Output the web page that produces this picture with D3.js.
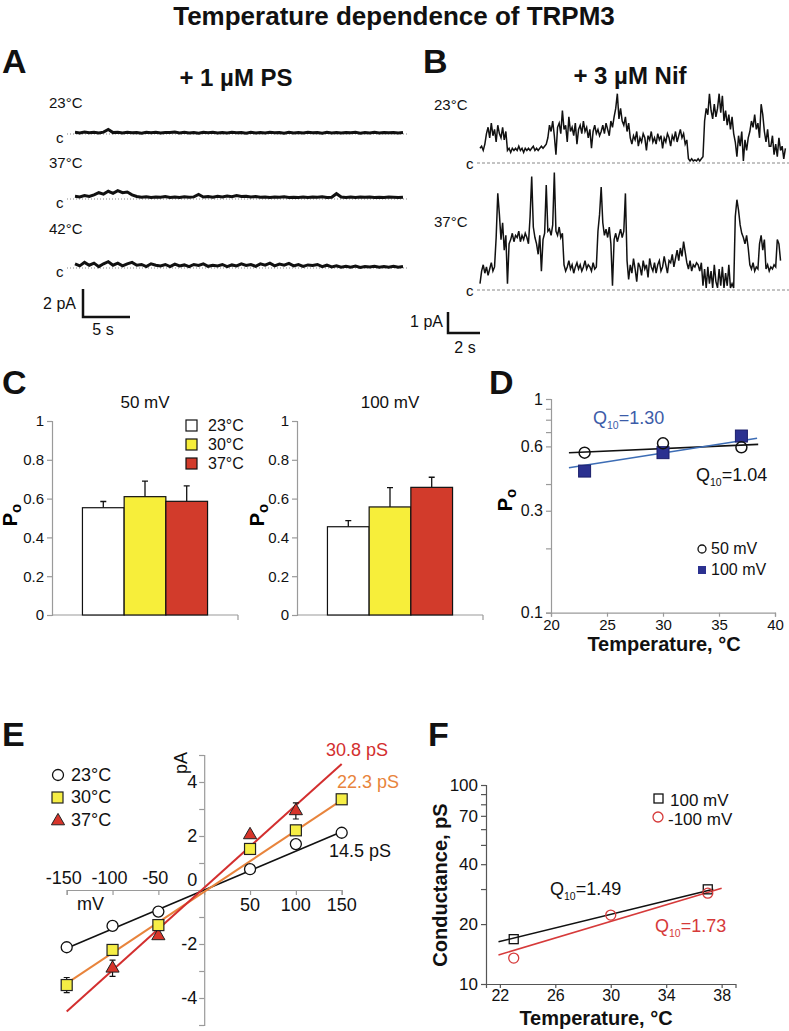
<!DOCTYPE html>
<html>
<head>
<meta charset="utf-8">
<script src="https://cdn.jsdelivr.net/npm/d3@7"></script>
<style>
  body { margin: 0; background: #fff; }
  text { font-family: "Liberation Sans", Arial, Helvetica, sans-serif; }
</style>
</head>
<body>
<script>
// ---- data ----

// A: single channel traces with 1 uM PS (pA above closed level, one sample per 0.5 s)
var traceA23 = [0.12,0.08,0.14,0.09,0.12,0.07,0.13,0.32,0.1,0.12,0.07,0.13,0.09,0.11,0.06,0.12,0.09,0.13,0.07,0.11,0.1,0.14,0.08,0.12,0.07,0.11,0.06,0.12,0.09,0.13,0.07,0.1,0.08,0.12,0.09,0.11,0.06,0.13,0.08,0.1,0.07,0.12,0.09,0.11,0.06,0.13,0.08,0.1,0.07,0.12,0.09,0.11,0.06,0.12,0.08,0.1,0.07,0.11,0.09,0.12,0.06,0.1,0.08,0.12,0.07,0.11,0.09,0.1,0.07,0.1];
var traceA37 = [0.2,0.15,0.25,0.18,0.3,0.45,0.35,0.55,0.4,0.6,0.45,0.5,0.3,0.18,0.12,0.16,0.1,0.15,0.12,0.17,0.11,0.14,0.1,0.16,0.12,0.15,0.32,0.14,0.18,0.12,0.2,0.15,0.22,0.16,0.24,0.18,0.2,0.14,0.17,0.12,0.15,0.1,0.14,0.12,0.16,0.1,0.13,0.11,0.15,0.1,0.14,0.12,0.16,0.1,0.13,0.38,0.14,0.11,0.15,0.1,0.14,0.12,0.15,0.1,0.13,0.11,0.14,0.12,0.1,0.13];
var traceA42 = [0.3,0.15,0.4,0.2,0.35,0.1,0.3,0.45,0.2,0.35,0.15,0.3,0.4,0.2,0.25,0.1,0.3,0.2,0.15,0.25,0.1,0.28,0.15,0.22,0.1,0.25,0.18,0.3,0.12,0.2,0.15,0.25,0.1,0.22,0.15,0.3,0.18,0.25,0.12,0.3,0.2,0.35,0.15,0.28,0.2,0.33,0.15,0.25,0.12,0.22,0.18,0.25,0.1,0.2,0.08,0.15,0.05,0.12,0.06,0.14,0.04,0.1,0.07,0.13,0.05,0.11,0.06,0.12,0.05,0.1];

// B: traces with 3 uM Nif (pA, one sample per 0.1 s)
var traceB23 = [0.7,0.8,0.6,0.9,
  1.4,1.7,1.2,1.9,1.3,1.6,1.0,1.8,1.4,1.2,1.7,1.1,1.5,
  0.6,0.7,0.5,0.7,0.6,0.7,0.6,0.8,0.6,0.7,0.5,0.7,0.6,0.7,0.6,0.7,0.8,0.6,0.7,0.6,0.7,0.8,0.7,0.8,0.9,
  1.2,1.8,1.5,2.0,1.3,0.4,1.7,1.9,1.4,2.5,1.6,1.8,1.0,2.2,1.5,1.7,1.3,1.9,0.9,1.6,1.8,1.4,2.0,1.5,1.7,1.2,1.6,0.7,1.5,1.8,1.4,1.6,1.3,
  1.5,1.8,1.4,1.9,1.6,1.3,2.0,1.7,2.2,2.6,3.3,2.1,2.6,2.0,1.8,2.2,1.5,1.9,1.2,
  0.9,1.3,1.1,1.5,0.8,1.2,1.0,1.4,1.2,0.6,1.3,1.1,1.5,1.0,1.2,0.9,1.4,1.1,1.3,0.7,1.2,1.0,1.4,1.2,0.8,1.3,1.1,1.5,1.0,1.3,1.6,1.2,1.4,0.9,1.1,
  0.2,0.1,0.2,0.1,0.15,0.1,0.2,0.1,0.2,0.3,
  2.0,2.6,2.3,3.3,2.5,2.1,2.8,2.2,2.6,3.3,2.4,3.2,2.0,2.5,1.8,2.3,1.6,2.2,1.4,
  1.0,0.3,1.3,0.8,1.5,0.1,1.1,0.6,1.2,
  1.5,2.0,1.7,2.3,1.6,1.9,1.2,2.8,2.3,1.5,1.0,1.6,0.8,
  0.8,1.3,0.4,0.9,0.3,1.2,0.6,0.8,0.2,0.7];
var traceB37 = [0.3,0.9,1.2,0.8,1.1,0.7,1.0,1.3,0.9,1.1,
  2.5,4.6,3.6,
  2.4,3.2,1.9,2.6,0.3,2.2,
  2.4,2.7,2.3,2.6,2.5,2.8,2.3,2.6,2.4,2.7,2.5,2.2,
  3.5,5.4,3.0,
  2.5,2.2,1.7,2.6,0.9,2.4,2.7,
  5.0,2.8,
  2.9,2.6,3.1,5.6,
  2.8,2.6,3.0,2.5,2.7,
  1.2,0.9,1.1,1.4,1.0,1.2,0.8,1.1,1.3,1.0,1.2,0.9,1.1,1.4,1.0,1.2,1.1,0.9,1.3,1.0,1.1,
  2.8,3.6,4.9,3.2,
  2.6,2.9,2.5,3.0,2.2,0.2,
  2.4,2.7,2.3,2.6,2.9,2.5,2.8,4.6,
  1.4,0.5,1.2,0.8,1.5,1.0,0.4,1.3,1.1,0.7,1.4,1.0,1.2,0.6,1.5,1.1,0.9,1.3,0.8,1.2,1.4,0.9,1.1,1.6,1.2,0.8,1.4,1.3,1.7,1.1,1.5,1.9,1.4,2.0,1.6,2.3,1.8,
  1.3,1.0,1.4,0.9,1.2,1.1,1.3,
  1.2,0.9,1.3,0.2,1.0,0.1,1.1,0.3,0.9,0.1,1.2,0.4,0.1,1.0,0.2,1.1,0.1,0.8,0.2,1.2,0.1,0.3,0.1,
  3.5,4.3,3.8,3.1,2.7,
  2.5,2.2,2.6,2.0,
  1.2,1.0,1.3,0.9,1.1,1.0,
  2.2,2.6,1.9,2.4,
  1.0,1.2,0.9,1.1,1.0,1.2,1.1,
  2.4,2.2,1.4];

// C: open probability bars
var tempsC = ["23°C", "30°C", "37°C"];
var colorsC = ["#ffffff", "#f7ee3a", "#d23b2b"];
var po50 = [0.553, 0.61, 0.586];
var po50err = [0.032, 0.08, 0.08];
var po100 = [0.455, 0.557, 0.658];
var po100err = [0.031, 0.1, 0.052];

// D: Po vs temperature (log axis)
var tempD = [23, 30, 37];
var poD50 = [0.561, 0.62, 0.594];
var poD100 = [0.46, 0.561, 0.671];
var fitD50 = [[21.6, 0.56], [38.5, 0.613]];
var fitD100 = [[21.6, 0.477], [38.4, 0.655]];
var ticksD = [0.1, 0.2, 0.3, 0.4, 0.6, 0.7, 0.8, 0.9, 1];
var labelsD = [0.1, 0.3, 0.6, 1];

// E: I-V relations
var voltsE = [-150, -100, -50, 50, 100, 150];
var iE23 = [-2.12, -1.33, -0.8, 0.77, 1.7, 2.12];
var iE30 = [-3.52, -2.22, -1.3, 1.52, 2.21, 3.36];
var errE30 = [0.28, 0.1, 0.1, 0, 0, 0];
var voltsE37 = [-100, -50, 50, 100];
var iE37 = [-2.9, -1.7, 2.04, 2.93];
var errE37 = [0.3, 0, 0, 0.3];
var fitE23 = [[-150, -2.16], [150, 2.16]];
var fitE30 = [[-150, -3.46], [150, 3.33]];
var fitE37 = [[-150, -4.5], [150, 4.67]];

// F: conductance vs temperature (log axis)
var tempF100 = [23, 37];
var gF100 = [16.8, 29.9];
var tempFm100 = [23, 30, 37];
var gFm100 = [13.5, 22.2, 28.6];
var fitF100 = [[21.9, 16.3], [37.4, 29.9]];
var fitFm100 = [[21.9, 14.0], [38.0, 30.3]];
var ticksF = [10, 20, 30, 40, 50, 60, 70, 80, 90, 100];
var labelsF = [10, 20, 40, 70, 100];

// ---- drawing ----
var svg = d3.select("body").append("svg")
  .attr("width", 789)
  .attr("height", 1031);

svg.append("rect").attr("width", 789).attr("height", 1031).attr("fill", "#fff");

var AXIS = "#9a9a9a";

function label(x, y, s, size, opts) {
  opts = opts || {};
  return svg.append("text")
    .attr("x", x).attr("y", y)
    .attr("text-anchor", opts.anchor || "start")
    .attr("font-weight", opts.bold ? "bold" : "normal")
    .attr("fill", opts.color || "#111")
    .style("font-size", size + "px")
    .text(s);
}

function q10(x, y, val, color, size) {
  var t = svg.append("text").attr("x", x).attr("y", y).attr("fill", color).style("font-size", size + "px");
  t.append("tspan").text("Q");
  t.append("tspan").attr("dy", size * 0.3).style("font-size", (size * 0.58) + "px").text("10");
  t.append("tspan").attr("dy", -size * 0.3).text("=" + val);
}

function poLabel(x, y, size) {
  var t = svg.append("text")
    .attr("transform", "translate(" + x + "," + y + ") rotate(-90)")
    .attr("text-anchor", "middle")
    .attr("font-weight", "bold")
    .style("font-size", size + "px");
  t.append("tspan").text("P");
  t.append("tspan").attr("dy", size * 0.2).style("font-size", (size * 0.75) + "px").text("o");
}

function styleAxis(g, size, color) {
  g.select(".domain").attr("stroke", color || AXIS).attr("stroke-width", 1.2);
  g.selectAll(".tick line").attr("stroke", color || AXIS).attr("stroke-width", 1.2);
  g.selectAll(".tick text").attr("fill", "#111").style("font-size", size + "px")
    .style("font-family", "'Liberation Sans', Arial, sans-serif");
}

// title
label(394, 25, "Temperature dependence of TRPM3", 26, {anchor: "middle", bold: true});

// ---------- A ----------
label(2, 73, "A", 34, {bold: true});
label(236, 86, "+ 1 µM PS", 24, {anchor: "middle", bold: true});

var tracesA = [
  {name: "23°C", data: traceA23, c: 134, ly: 108},
  {name: "37°C", data: traceA37, c: 199, ly: 168},
  {name: "42°C", data: traceA42, c: 268, ly: 234}
];

tracesA.forEach(function(tr) {
  var x = d3.scaleLinear().domain([0, tr.data.length - 1]).range([75, 403]);
  var y = d3.scaleLinear().domain([0, 2]).range([tr.c, tr.c - 28]);
  label(49, tr.ly, tr.name, 15);
  label(56, tr.c + 9, "c", 15);
  svg.append("line").attr("x1", 67).attr("x2", 408).attr("y1", tr.c).attr("y2", tr.c)
    .attr("stroke", "#888").attr("stroke-dasharray", "1,2");
  svg.append("path").datum(tr.data)
    .attr("fill", "none").attr("stroke", "#111").attr("stroke-width", 3)
    .attr("d", d3.line().x(function(d, i) { return x(i); }).y(function(d) { return y(d); }));
});

// scale bar A
svg.append("path").attr("d", "M83,289V317H130").attr("fill", "none").attr("stroke", "#111").attr("stroke-width", 2.5);
label(76, 309, "2 pA", 16, {anchor: "end"});
label(103, 335, "5 s", 16, {anchor: "middle"});

// ---------- B ----------
label(423, 73, "B", 34, {bold: true});
label(630, 84, "+ 3 µM Nif", 24, {anchor: "middle", bold: true});

var xB = d3.scaleLinear().domain([0, 19]).range([480, 787]);
var tracesB = [
  {name: "23°C", data: traceB23, c: 163, ly: 110},
  {name: "37°C", data: traceB37, c: 290, ly: 227}
];
tracesB.forEach(function(tr) {
  var y = d3.scaleLinear().domain([0, 1]).range([tr.c, tr.c - 21]);
  label(434, tr.ly, tr.name, 15);
  label(466, tr.c + 6, "c", 15);
  svg.append("line").attr("x1", 477).attr("x2", 789).attr("y1", tr.c).attr("y2", tr.c)
    .attr("stroke", "#888").attr("stroke-dasharray", "3,2");
  svg.append("path").datum(tr.data)
    .attr("fill", "none").attr("stroke", "#111").attr("stroke-width", 1.5)
    .attr("d", d3.line().x(function(d, i) { return xB(i * 0.1); }).y(function(d) { return y(d); }));
});

svg.append("path").attr("d", "M448,312V333H480").attr("fill", "none").attr("stroke", "#111").attr("stroke-width", 2.5);
label(443, 327, "1 pA", 16, {anchor: "end"});
label(465, 353, "2 s", 16, {anchor: "middle"});

// ---------- C ----------
label(2, 394, "C", 34, {bold: true});

function barPanel(x0, title, vals, errs) {
  var g = svg.append("g").attr("transform", "translate(" + x0 + ",0)");
  var y = d3.scaleLinear().domain([0, 1]).range([615, 421]);
  var x = d3.scaleBand().domain(tempsC).range([0, 186]).paddingInner(0).paddingOuter(0.73);

  var ay = g.append("g").call(d3.axisLeft(y).tickValues([0, 0.2, 0.4, 0.6, 0.8, 1]).tickSize(5).tickFormat(d3.format("")));
  styleAxis(ay, 15);
  g.append("line").attr("x1", 0).attr("x2", 186).attr("y1", 615).attr("y2", 615).attr("stroke", AXIS).attr("stroke-width", 1.2);
  g.append("line").attr("x1", 186).attr("x2", 186).attr("y1", 615).attr("y2", 620).attr("stroke", AXIS).attr("stroke-width", 1.2);

  g.selectAll(".err").data(vals).enter().append("path")
    .attr("fill", "none").attr("stroke", "#111").attr("stroke-width", 1.3)
    .attr("d", function(d, i) {
      var cx = x(tempsC[i]) + x.bandwidth() / 2, top = y(d + errs[i]);
      return "M" + cx + "," + y(d) + "V" + top + "M" + (cx - 3) + "," + top + "H" + (cx + 3);
    });

  g.selectAll(".bar").data(vals).enter().append("rect")
    .attr("x", function(d, i) { return x(tempsC[i]); })
    .attr("width", x.bandwidth())
    .attr("y", function(d) { return y(d); })
    .attr("height", function(d) { return 615 - y(d); })
    .attr("fill", function(d, i) { return colorsC[i]; })
    .attr("stroke", "#111").attr("stroke-width", 1.2);

  label(x0 + 93, 408, title, 17, {anchor: "middle"});
}

barPanel(52, "50 mV", po50, po50err);
barPanel(297, "100 mV", po100, po100err);
poLabel(17, 515, 20);
poLabel(264, 515, 20);

tempsC.forEach(function(t, i) {
  svg.append("rect").attr("x", 186).attr("y", 420 + i * 19).attr("width", 11).attr("height", 11)
    .attr("fill", colorsC[i]).attr("stroke", "#111").attr("stroke-width", 1.2);
  label(208, 431 + i * 19, t, 16);
});

// ---------- D ----------
label(489, 394, "D", 34, {bold: true});

var xD = d3.scaleLinear().domain([20, 40]).range([551, 775]);
var yD = d3.scaleLog().domain([0.1, 1]).range([612.7, 399]);

var axD = svg.append("g").attr("transform", "translate(551,0)")
  .call(d3.axisLeft(yD).tickValues(ticksD).tickSize(5)
    .tickFormat(function(d) { return labelsD.indexOf(d) >= 0 ? d3.format("")(d) : ""; }));
styleAxis(axD, 16);
var axDx = svg.append("g").attr("transform", "translate(0,612.7)")
  .call(d3.axisBottom(xD).tickValues([20, 25, 30, 35, 40]).tickSize(4));
styleAxis(axDx, 15);
label(664, 651, "Temperature, °C", 20, {anchor: "middle", bold: true});
poLabel(512, 500, 20);

function fitLine(scX, scY, pts, color, w) {
  svg.append("path").datum(pts)
    .attr("fill", "none").attr("stroke", color).attr("stroke-width", w)
    .attr("d", d3.line().x(function(d) { return scX(d[0]); }).y(function(d) { return scY(d[1]); }));
}

fitLine(xD, yD, fitD50, "#111", 1.6);
fitLine(xD, yD, fitD100, "#3d6db5", 1.6);

svg.selectAll(".d100").data(poD100).enter().append("rect")
  .attr("x", function(d, i) { return xD(tempD[i]) - 6; })
  .attr("y", function(d) { return yD(d) - 6; })
  .attr("width", 12).attr("height", 12)
  .attr("fill", "#2b3190").attr("stroke", "#1b1f6a").attr("stroke-width", 1);
svg.selectAll(".d50").data(poD50).enter().append("circle")
  .attr("cx", function(d, i) { return xD(tempD[i]); })
  .attr("cy", function(d) { return yD(d); })
  .attr("r", 5.5)
  .attr("fill", "none").attr("stroke", "#111").attr("stroke-width", 1.5);

q10(593, 424, "1.30", "#3c5ca8", 18);
q10(696, 481, "1.04", "#111", 18);

svg.append("circle").attr("cx", 702).attr("cy", 549).attr("r", 4).attr("fill", "#fff").attr("stroke", "#111").attr("stroke-width", 1.3);
label(711, 554, "50 mV", 16);
svg.append("rect").attr("x", 698).attr("y", 566).attr("width", 8).attr("height", 8).attr("fill", "#2b3190");
label(711, 575, "100 mV", 16);

// ---------- E ----------
label(2, 746, "E", 34, {bold: true});

var xE = d3.scaleLinear().domain([-150, 150]).range([66.7, 341.7]);
var yE = d3.scaleLinear().domain([-5, 5]).range([1025, 755]);

var axEx = svg.append("g").attr("transform", "translate(0," + yE(0) + ")")
  .call(d3.axisBottom(xE).tickValues([-150, -100, -50, 0, 50, 100, 150]).tickSize(5).tickFormat(""));
styleAxis(axEx, 17);
var axEy = svg.append("g").attr("transform", "translate(" + xE(0) + ",0)")
  .call(d3.axisLeft(yE).tickValues(d3.range(-5, 6)).tickSize(5).tickFormat(""));
styleAxis(axEy, 17);

[-150, -100, -50].forEach(function(v) { label(xE(v) - 3, yE(0) - 6, String(v), 18, {anchor: "middle"}); });
[50, 100, 150].forEach(function(v) { label(xE(v), yE(0) + 21, String(v), 18, {anchor: "middle"}); });
[-4, -2, 2, 4].forEach(function(v) { label(xE(0) - 7, yE(v) + 6, String(v), 18, {anchor: "end"}); });
label(xE(0) - 7, yE(0) - 4, "0", 18, {anchor: "end"});
label(77, 910, "mV", 18);
svg.append("text").attr("transform", "translate(187,763) rotate(-90)").attr("text-anchor", "middle")
  .style("font-size", "18px").attr("fill", "#111").text("pA");

fitLine(xE, yE, fitE23, "#111", 1.6);
fitLine(xE, yE, fitE30, "#e8843c", 2);
fitLine(xE, yE, fitE37, "#d32f2f", 2);

function errBars(volts, vals, errs) {
  volts.forEach(function(v, i) {
    if (!errs[i]) return;
    var cx = xE(v);
    svg.append("path").attr("fill", "none").attr("stroke", "#111").attr("stroke-width", 1.2)
      .attr("d", "M" + cx + "," + yE(vals[i] - errs[i]) + "V" + yE(vals[i] + errs[i]) +
        "M" + (cx - 3) + "," + yE(vals[i] - errs[i]) + "H" + (cx + 3) +
        "M" + (cx - 3) + "," + yE(vals[i] + errs[i]) + "H" + (cx + 3));
  });
}
errBars(voltsE, iE30, errE30);
errBars(voltsE37, iE37, errE37);

svg.selectAll(".e37").data(iE37).enter().append("path")
  .attr("transform", function(d, i) { return "translate(" + xE(voltsE37[i]) + "," + yE(d) + ")"; })
  .attr("d", d3.symbol().type(d3.symbolTriangle).size(75))
  .attr("fill", "#d7352b").attr("stroke", "#222").attr("stroke-width", 1);
svg.selectAll(".e30").data(iE30).enter().append("rect")
  .attr("x", function(d, i) { return xE(voltsE[i]) - 5.5; })
  .attr("y", function(d) { return yE(d) - 5.5; })
  .attr("width", 11).attr("height", 11)
  .attr("fill", "#f6ee45").attr("stroke", "#222").attr("stroke-width", 1.2);
svg.selectAll(".e23").data(iE23).enter().append("circle")
  .attr("cx", function(d, i) { return xE(voltsE[i]); })
  .attr("cy", function(d) { return yE(d); })
  .attr("r", 5.5)
  .attr("fill", "#fff").attr("stroke", "#111").attr("stroke-width", 1.3);

label(326, 756, "30.8 pS", 18, {color: "#d32f2f"});
label(337, 788, "22.3 pS", 18, {color: "#e8843c"});
label(329, 857, "14.5 pS", 18);

svg.append("circle").attr("cx", 58).attr("cy", 775).attr("r", 5.5).attr("fill", "#fff").attr("stroke", "#111").attr("stroke-width", 1.3);
label(71, 781, "23°C", 18);
svg.append("rect").attr("x", 52).attr("y", 792).attr("width", 11).attr("height", 11).attr("fill", "#f6ee45").attr("stroke", "#222").attr("stroke-width", 1.2);
label(71, 803, "30°C", 18);
svg.append("path").attr("transform", "translate(58,821)").attr("d", d3.symbol().type(d3.symbolTriangle).size(75))
  .attr("fill", "#d7352b").attr("stroke", "#222").attr("stroke-width", 1);
label(71, 826, "37°C", 18);

// ---------- F ----------
label(428, 746, "F", 34, {bold: true});

var xF = d3.scaleLinear().domain([21, 39]).range([486, 735.5]);
var yF = d3.scaleLog().domain([10, 100]).range([984, 785]);

var axFy = svg.append("g").attr("transform", "translate(486,0)")
  .call(d3.axisLeft(yF).tickValues(ticksF).tickSize(5)
    .tickFormat(function(d) { return labelsF.indexOf(d) >= 0 ? String(d) : ""; }));
styleAxis(axFy, 17, "#555");
var axFx = svg.append("g").attr("transform", "translate(0,984)")
  .call(d3.axisBottom(xF).tickValues([22, 26, 30, 34, 38]).tickSize(4).tickPadding(2));
styleAxis(axFx, 16, "#555");

label(596, 1025, "Temperature, °C", 20, {anchor: "middle", bold: true});
svg.append("text").attr("transform", "translate(447,885) rotate(-90)").attr("text-anchor", "middle")
  .attr("font-weight", "bold").style("font-size", "20px").attr("fill", "#111").text("Conductance, pS");

fitLine(xF, yF, fitF100, "#111", 1.6);
fitLine(xF, yF, fitFm100, "#d63a3a", 1.6);

svg.selectAll(".f100").data(gF100).enter().append("rect")
  .attr("x", function(d, i) { return xF(tempF100[i]) - 4.5; })
  .attr("y", function(d) { return yF(d) - 4.5; })
  .attr("width", 9).attr("height", 9)
  .attr("fill", "none").attr("stroke", "#111").attr("stroke-width", 1.3);
svg.selectAll(".fm100").data(gFm100).enter().append("circle")
  .attr("cx", function(d, i) { return xF(tempFm100[i]); })
  .attr("cy", function(d) { return yF(d); })
  .attr("r", 5)
  .attr("fill", "none").attr("stroke", "#d63a3a").attr("stroke-width", 1.3);

q10(550, 895, "1.49", "#111", 18);
q10(655, 932, "1.73", "#d63a3a", 18);

svg.append("rect").attr("x", 654).attr("y", 794).attr("width", 9).attr("height", 9).attr("fill", "none").attr("stroke", "#111").attr("stroke-width", 1.3);
label(670, 806, "100 mV", 17);
svg.append("circle").attr("cx", 658).attr("cy", 817).attr("r", 5).attr("fill", "none").attr("stroke", "#d63a3a").attr("stroke-width", 1.3);
label(668, 825, "-100 mV", 17);
</script>
</body>
</html>
